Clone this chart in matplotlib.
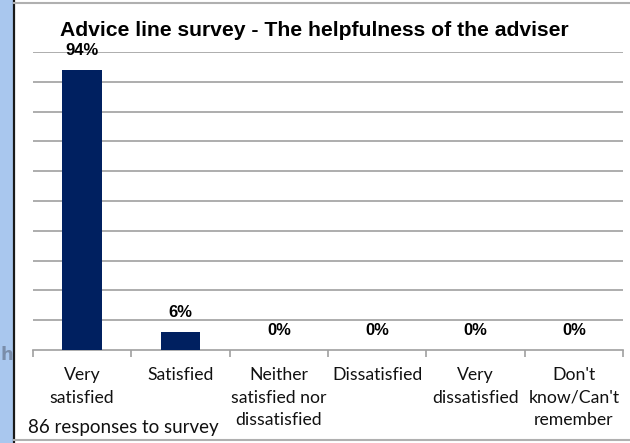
import matplotlib
matplotlib.use("Agg")
import matplotlib.pyplot as plt
from matplotlib.patches import Rectangle
from matplotlib.lines import Line2D

# survey answers and share of responses (%)
categories = ["Very\nsatisfied", "Satisfied", "Neither\nsatisfied nor\ndissatisfied",
              "Dissatisfied", "Very\ndissatisfied", "Don't\nknow/Can't\nremember"]
shares = [94, 6, 0, 0, 0, 0]
title = "Advice line survey - The helpfulness of the adviser"
footnote = "86 responses to survey"

W, H = 630, 443
fig = plt.figure(figsize=(W / 100, H / 100), dpi=100)
fig.patch.set_facecolor("white")

# window edge on the left and frame lines
fig.patches.append(Rectangle((0, 0), 13 / W, 1, transform=fig.transFigure,
                             facecolor="#a9c7ee", edgecolor="none", zorder=0))
fig.lines.append(Line2D([13.5 / W, 13.5 / W], [0, 1], transform=fig.transFigure,
                        color="#1a1a1a", lw=1.6))
fig.lines.append(Line2D([14 / W, 1], [1 - 3 / H, 1 - 3 / H], transform=fig.transFigure,
                        color="#b0b0b0", lw=1.5))
fig.lines.append(Line2D([14 / W, 1], [1 - 440 / H, 1 - 440 / H], transform=fig.transFigure,
                        color="#b0b0b0", lw=1.5))
fig.text(0, 1 - 355 / H, "h", fontsize=13, color="#6f7f99", fontweight="bold",
         va="center", ha="left", alpha=0.8)

left, right = 33 / W, 623 / W
bottom, top = 1 - 350 / H, 1 - 52 / H
ax = fig.add_axes([left, bottom, right - left, top - bottom])

x = list(range(len(categories)))
bars = ax.bar(x, shares, width=0.4, color="#002060", zorder=3)
ax.set_xlim(-0.5, len(categories) - 0.5)
ax.set_ylim(0, 100)
ax.set_yticks(range(10, 101, 10))
ax.yaxis.grid(True, color="#a0a0a0", lw=1.2)
ax.tick_params(axis="y", left=False, labelleft=False)

for s in ["top", "right", "left"]:
    ax.spines[s].set_visible(False)
ax.spines["bottom"].set_color("#a0a0a0")
ax.spines["bottom"].set_linewidth(1.2)

# tick marks sit on category boundaries, labels at centres
ax.set_xticks([i - 0.5 for i in range(len(categories) + 1)])
ax.set_xticklabels([])
ax.tick_params(axis="x", direction="out", length=5, color="#a0a0a0", width=1.2)
for i, lab in enumerate(categories):
    ax.text(i, -5.8, lab, ha="center", va="top", fontsize=12.7, family="Lato",
            color="#111111", linespacing=1.5)

for b, v in zip(bars, shares):
    ax.text(b.get_x() + b.get_width() / 2, v + 6.5, f"{v}%", ha="center", va="center",
            fontsize=12, fontweight="bold", family="Liberation Sans")

fig.text(314 / W, 1 - 31 / H, title, ha="center", va="center", fontsize=15.2,
         fontweight="bold", family="Liberation Sans")
fig.text(28 / W, 1 - 428 / H, footnote, ha="left", va="center", fontsize=13.5,
         family="Lato", color="#111111")

fig.savefig("out.png", dpi=100)
